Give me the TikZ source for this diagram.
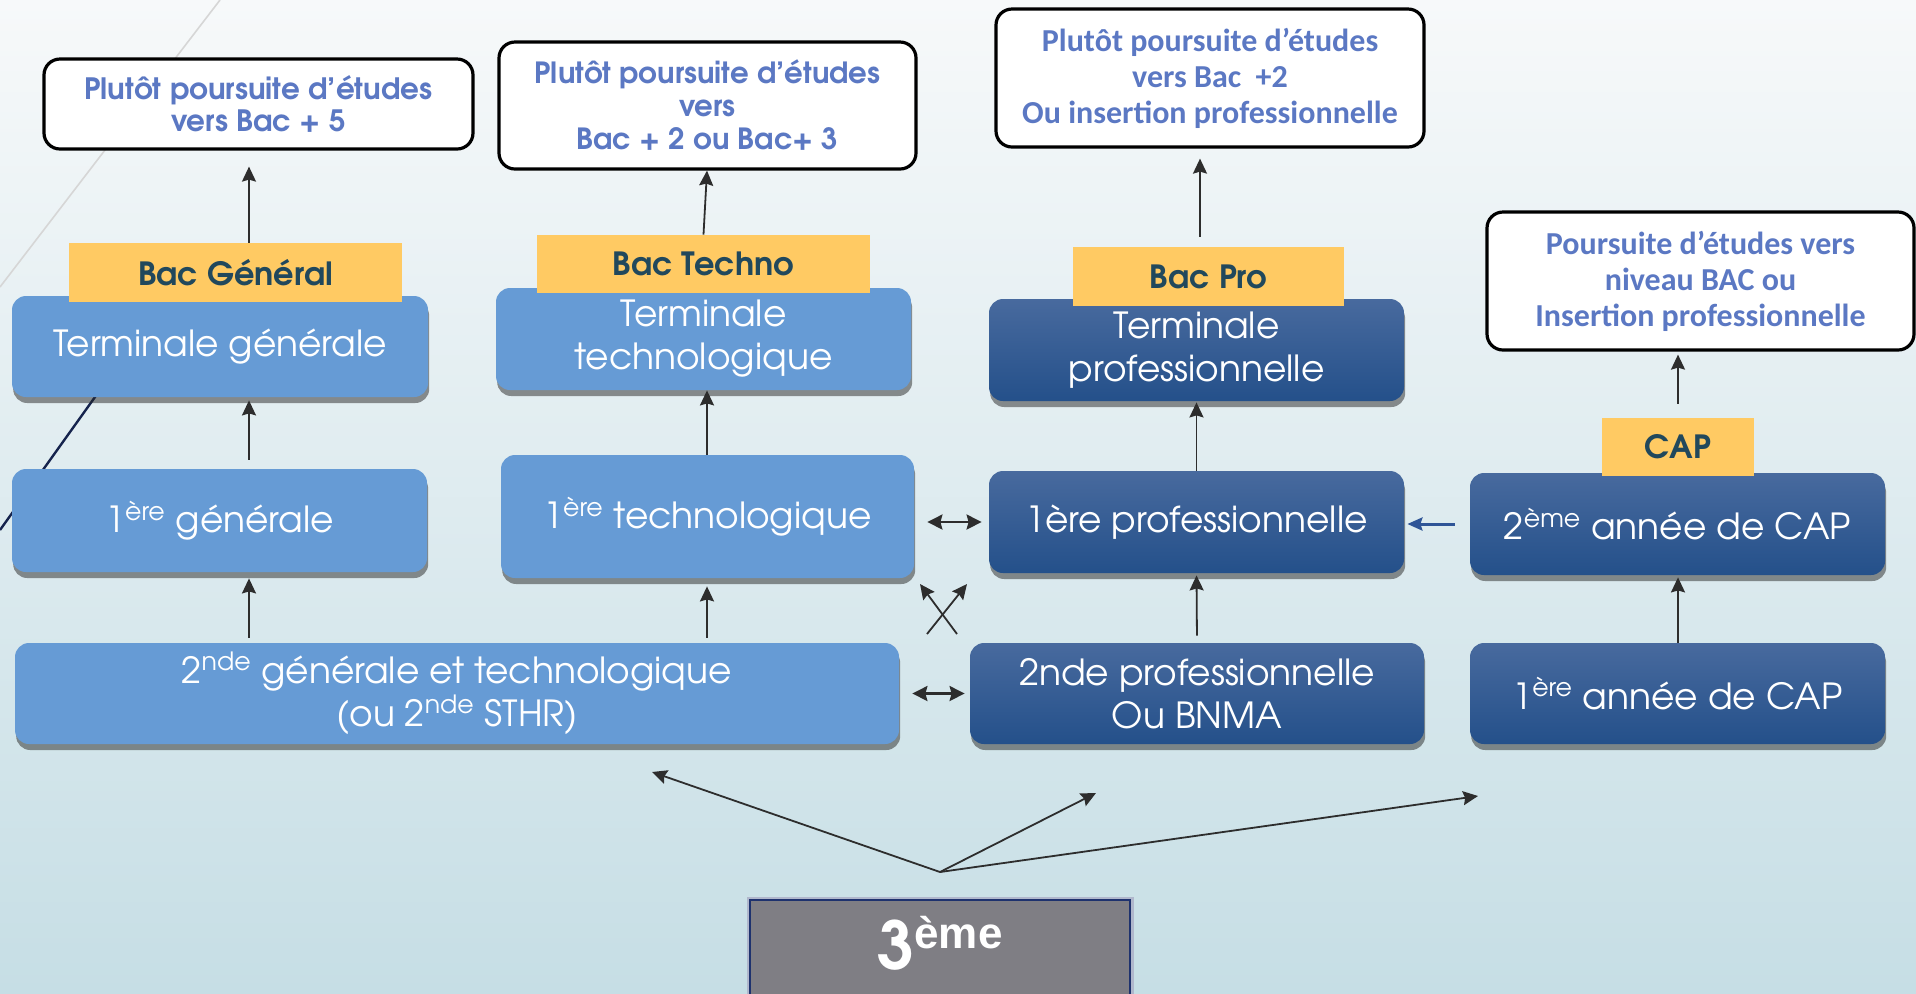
\documentclass[tikz,border=0pt]{standalone}
\usepackage{fontspec}
\setmainfont{texgyreadventor}[Extension=.otf,UprightFont=*-regular,BoldFont=*-bold]
\newfontfamily\calib{Carlito}
\newfontfamily\arialish{Liberation Sans}
\usepackage{xcolor}
\usepackage{tikz}
\usetikzlibrary{arrows.meta,shadows}

\definecolor{lightbox}{RGB}{102,155,213}
\definecolor{darktop}{RGB}{72,106,158}
\definecolor{darkbot}{RGB}{36,80,138}
\definecolor{tagyellow}{RGB}{255,202,99}
\definecolor{tagtext}{RGB}{33,72,92}
\definecolor{goaltext}{RGB}{91,120,195}
\definecolor{arrowgray}{RGB}{45,45,45}
\definecolor{bgtop}{RGB}{247,249,250}
\definecolor{bgbot}{RGB}{198,222,229}
\definecolor{troisgray}{RGB}{127,126,132}
\definecolor{troisline}{RGB}{30,50,110}
\definecolor{capblue}{RGB}{47,85,151}

\tikzset{
    box/.style={rounded corners=7pt, text=white, align=center, inner sep=2pt,
        font=\fontsize{18}{21.5}\selectfont,
        drop shadow={shadow xshift=0.6pt, shadow yshift=-3pt, opacity=0.5, fill=black!85}},
    lbox/.style={box, fill=lightbox},
    dbox/.style={box, top color=darktop, bottom color=darkbot},
    goal/.style={draw=black, line width=1.6pt, fill=white, rounded corners=8pt,
        align=center, text=goaltext, inner sep=2pt},
    tag/.style={fill=tagyellow, text=tagtext, inner sep=0pt,
        font=\bfseries\fontsize{16}{18}\selectfont},
    arr/.style={-{Stealth[length=7.5pt,width=7pt,inset=1pt]}, draw=arrowgray, line width=0.9pt},
    dblarr/.style={{Stealth[length=7.5pt,width=7.5pt,inset=1pt]}-{Stealth[length=7.5pt,width=7.5pt,inset=1pt]},
        draw=arrowgray, line width=1.2pt},
}

\begin{document}
\begin{tikzpicture}[x=0.5pt, y=-0.5pt]
        % background and the two slanted lines
        \useasboundingbox (0,0) rectangle (1916,993);
        \shade[top color=bgtop, bottom color=bgbot] (0,0) rectangle (1916,993);
        \draw[black!16, line width=0.8pt] (220,0) -- (0,287);
        \draw[troisline!70!black, line width=1.2pt] (120,362) -- (0,530);

        % what comes after each bac
        \node[goal, minimum width=214.5pt, minimum height=45pt,
            font=\bfseries\fontsize{14.7}{16}\selectfont] (goal5) at (258.5,104)
            {Plutôt poursuite d’études\\vers Bac + 5};
        \node[goal, minimum width=208.5pt, minimum height=63.5pt,
            font=\bfseries\fontsize{14.6}{16.5}\selectfont] (goal3) at (707.5,105.5)
            {Plutôt poursuite d’études\\vers\\Bac + 2 ou Bac+ 3};
        \node[goal, minimum width=214pt, minimum height=69pt,
            font=\calib\bfseries\fontsize{16}{18}\selectfont] (goal2) at (1210,78)
            {Plutôt poursuite d’études\\vers Bac\ \ +2\\Ou insertion professionnelle};
        \node[goal, minimum width=213.5pt, minimum height=69pt,
            font=\calib\bfseries\fontsize{16}{18}\selectfont] (goalcap) at (1700.5,281)
            {Poursuite d’études vers\\niveau BAC ou\\Insertion professionnelle};

        % terminales
        \node[lbox, minimum width=208pt, minimum height=50.5pt] (termgen) at (220,346.5)
            {Terminale générale};
        \node[lbox, minimum width=207.5pt, minimum height=51pt] (termtech) at (703.5,339)
            {Terminale\\technologique};
        \node[dbox, minimum width=207.5pt, minimum height=51pt] (termpro) at (1196.5,350)
            {Terminale\\professionnelle};

        % premieres
        \node[lbox, minimum width=207.5pt, minimum height=51.5pt] (premgen) at (219.5,520.5)
            {1\textsuperscript{ère} générale};
        \node[lbox, minimum width=206.5pt, minimum height=61.5pt] (premtech) at (707.5,516.5)
            {1\textsuperscript{ère} technologique};
        \node[dbox, minimum width=207.5pt, minimum height=51pt] (prempro) at (1196.5,522)
            {1ère professionnelle};
        \node[dbox, minimum width=207.5pt, minimum height=51pt] (cap2) at (1677.5,524)
            {2\textsuperscript{ème} année de CAP};

        % secondes
        \node[lbox, minimum width=442pt, minimum height=50.5pt] (seconde) at (457,693.5)
            {2\textsuperscript{nde} générale et technologique\\(ou 2\textsuperscript{nde} STHR)};
        \node[dbox, minimum width=227pt, minimum height=50.5pt] (secpro) at (1197,693.5)
            {2nde professionnelle\\Ou BNMA};
        \node[dbox, minimum width=207.5pt, minimum height=50.5pt] (cap1) at (1677.5,693.5)
            {1\textsuperscript{ère} année de CAP};

        % yellow labels on top of the boxes
        \node[tag, minimum width=166.5pt, minimum height=29.5pt] (bacgen) at (235.5,272.5) {Bac Général};
        \node[tag, minimum width=166.5pt, minimum height=29pt] (bactech) at (703.5,264) {Bac Techno};
        \node[tag, minimum width=135.5pt, minimum height=29.5pt] (bacpro) at (1208.5,276.5) {Bac Pro};
        \node[tag, minimum width=76pt, minimum height=29pt] (cap) at (1678,447) {CAP};

        % 3eme
        \node[fill=troisgray, draw=troisline, line width=1.2pt, inner sep=0pt,
            preaction={draw=troisline!35, line width=3.5pt},
            minimum width=190pt, text height=34.5pt, text depth=16pt, anchor=north,
            text=white, font=\bfseries\fontsize{33}{40}\selectfont] (trois) at (940,899)
            {3\raisebox{10.5pt}{\arialish\fontsize{22}{26}\selectfont ème}};

        % columns for the straight arrows
        \coordinate (gcol) at (249,0);
        \coordinate (tcol) at (707,0);
        \coordinate (pcol) at (1200,0);
        \coordinate (ccol) at (1678,0);

        % arrows going up
        \draw[arr, shorten >=8pt] (gcol |- bacgen.north) -- (gcol |- goal5.south);
        \draw[arr, shorten <=4.5pt, shorten >=1.5pt] (gcol |- premgen.north) -- (gcol |- termgen.south);
        \draw[arr, shorten <=2.5pt, shorten >=3pt] (gcol |- seconde.north) -- (gcol |- premgen.south);
        \draw[arr] (bactech.north) -- (tcol |- goal3.south);
        \draw[arr] (tcol |- premtech.north) -- (tcol |- termtech.south);
        \draw[arr, shorten <=2.5pt, shorten >=4pt] (tcol |- seconde.north) -- (tcol |- premtech.south);
        \draw[arr, shorten <=5pt, shorten >=5pt] (pcol |- bacpro.north) -- (pcol |- goal2.south);
        \draw[arr, shorten >=0.5pt] (prempro.north) -- (termpro.south);
        \draw[arr, shorten <=3.5pt, shorten >=1pt] (secpro.north) -- (prempro.south);
        \draw[arr, shorten <=7pt, shorten >=1.5pt] (ccol |- cap.north) -- (ccol |- goalcap.south);
        \draw[arr, shorten >=1pt] (ccol |- cap1.north) -- (ccol |- cap2.south);

        % passerelles
        \draw[dblarr, shorten <=6.5pt, shorten >=3.5pt] (premtech.east |- prempro.west) -- (prempro.west);
        \draw[dblarr, shorten <=6.5pt, shorten >=2.5pt] (seconde.east) -- (secpro.west);
        \draw[-{Stealth[length=7.5pt,width=6.5pt,inset=1pt]}, draw=capblue, line width=1.5pt,
            shorten <=7.5pt, shorten >=1.5pt] (cap2.west) -- (cap2.west -| prempro.east);

        % crossed arrows
        \coordinate (xa) at (927,634);
        \coordinate (xb) at (967,584);
        \coordinate (xc) at (957,634);
        \coordinate (xd) at (920,584);
        \draw[arr] (xa) -- (xb);
        \draw[arr] (xc) -- (xd);

        % from 3eme
        \coordinate (fan) at (940,872);
        \coordinate (fgt) at (652,772);
        \coordinate (fpro) at (1096,793);
        \coordinate (fcap) at (1478,796);
        \draw[arr] (fan) -- (fgt);
        \draw[arr] (fan) -- (fpro);
        \draw[arr] (fan) -- (fcap);
\end{tikzpicture}
\end{document}
